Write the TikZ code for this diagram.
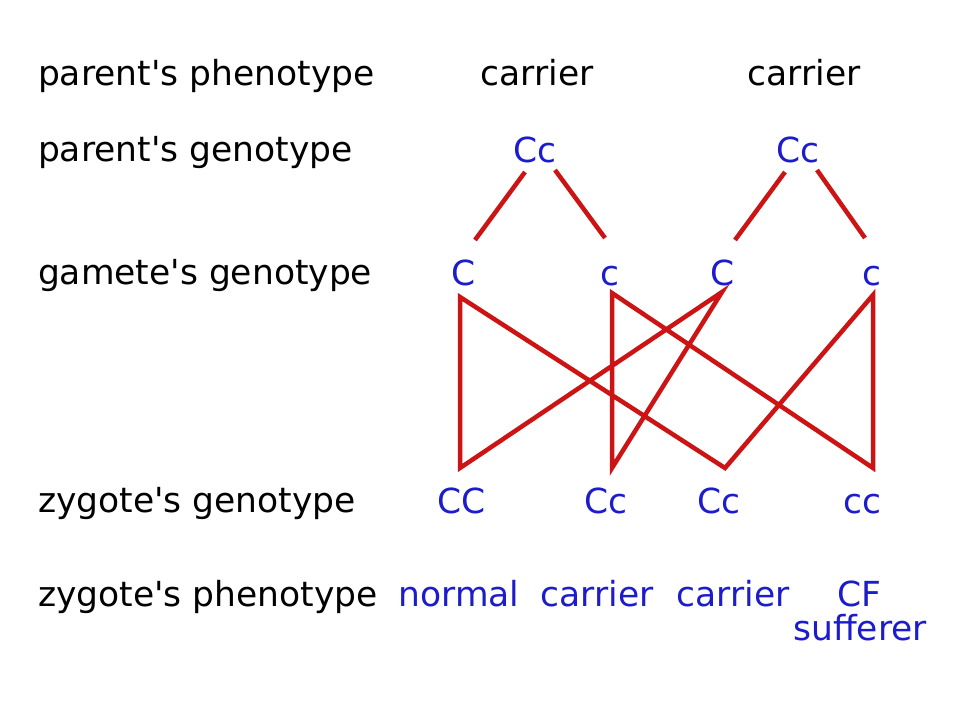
\documentclass[tikz,border=0pt]{standalone}
\usepackage{fontspec}
\setmainfont{DejaVu Sans}[Ligatures=TeXOff]
\definecolor{geneblue}{RGB}{28,28,205}
\definecolor{linered}{RGB}{204,20,20}
\begin{document}
\begin{tikzpicture}[x=1pt,y=-1pt,
  every node/.style={inner sep=0pt,outer sep=0pt,font=\fontsize{34.5}{40}\selectfont},
  lbl/.style={anchor=base west,text=black},
  gene/.style={anchor=base,text=geneblue},
  phen/.style={anchor=base,text=black},
  link/.style={draw=linered,line width=4.5pt},
  cross/.style={draw=linered,line width=4.5pt,line join=miter,miter limit=10}]
\useasboundingbox[fill=white] (0,0) rectangle (960,720);
% row labels
\node[lbl] (l1) at (38,85) {parent's phenotype};
\node[lbl] (l2) at (38,161) {parent's genotype};
\node[lbl] (l3) at (38,284) {gamete's genotype};
\node[lbl] (l4) at (38,512) {zygote's genotype};
\node[lbl] (l5) at (38,606) {zygote's phenotype};
% parents
\node[phen] (pp1) at (537,85) {carrier};
\node[phen] (pp2) at (804,85) {carrier};
\node[gene] (pg1) at (535,162) {Cc};
\node[gene] (pg2) at (798,162) {Cc};
% gametes
\node[gene] (g1) at (464,285) {C};
\node[gene] (g2) at (610,285) {c};
\node[gene] (g3) at (723,285) {C};
\node[gene] (g4) at (872,285) {c};
% zygotes
\node[gene] (z1) at (462,513) {CC};
\node[gene] (z2) at (606,513) {Cc};
\node[gene] (z3) at (719,513) {Cc};
\node[gene] (z4) at (862,513) {cc};
% zygote phenotypes
\node[gene] (f1) at (459,606) {normal};
\node[gene] (f2) at (597,606) {carrier};
\node[gene] (f3) at (733,606) {carrier};
\node[gene] (f4) at (859,606) {CF};
\node[gene] (f5) at (860,640) {sufferer};
% parent-to-gamete connector ends
\coordinate (a1) at (525,172); \coordinate (a2) at (475,240);
\coordinate (a3) at (555,170); \coordinate (a4) at (605,238);
\coordinate (b1) at (785,172); \coordinate (b2) at (735,240);
\coordinate (b3) at (817,170); \coordinate (b4) at (865,238);
\draw[link] (a1) -- (a2);
\draw[link] (a3) -- (a4);
\draw[link] (b1) -- (b2);
\draw[link] (b3) -- (b4);
% crossing lines: gamete points T, zygote points B
\coordinate (T1) at (460,297);
\coordinate (T2) at (612,293);
\coordinate (T3) at (722,292);
\coordinate (T4) at (873,295);
\coordinate (B1) at (460,468);
\coordinate (B2) at (612,468);
\coordinate (B3) at (725,468);
\coordinate (B4) at (873,468);
\draw[cross] (T1) -- (B1) -- (T3) -- (B2) -- (T2) -- (B4) -- (T4) -- (B3) -- cycle;
\end{tikzpicture}
\end{document}
